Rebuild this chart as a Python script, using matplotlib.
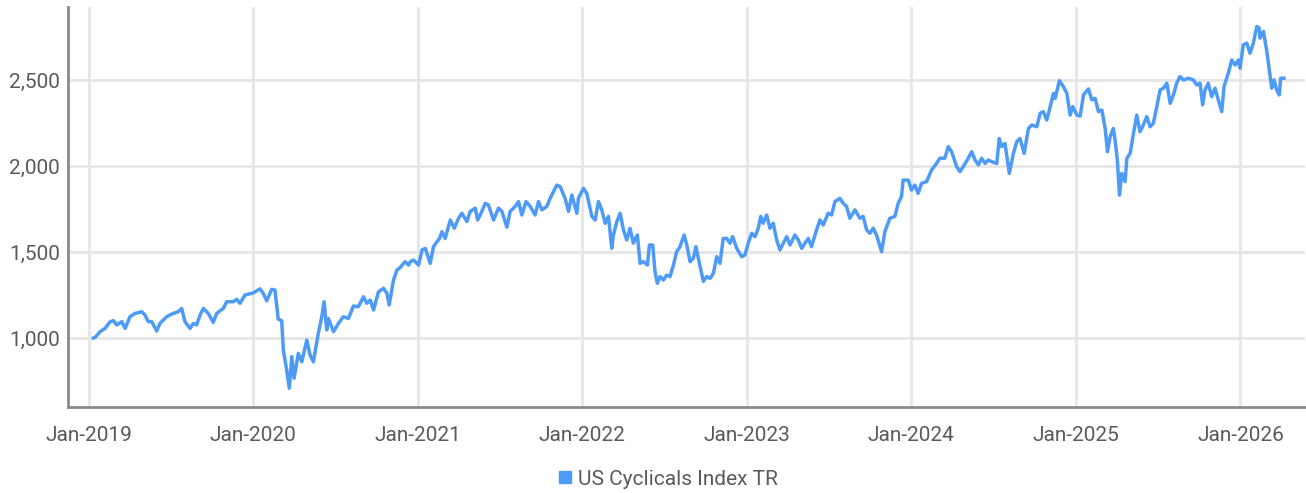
import matplotlib
matplotlib.use("Agg")
import matplotlib.pyplot as plt
import matplotlib.dates as mdates
import pandas as pd
import numpy as np

series_name = "US Cyclicals Index TR"

# time as decimal years
years = [
    2019.029, 2019.040, 2019.070, 2019.100, 2019.131, 2019.151, 2019.171, 2019.202, 2019.222,
    2019.252, 2019.283, 2019.323, 2019.343, 2019.363, 2019.384, 2019.414, 2019.434, 2019.475,
    2019.515, 2019.546, 2019.566, 2019.586, 2019.617, 2019.637, 2019.657, 2019.678, 2019.698,
    2019.728, 2019.758, 2019.779, 2019.819, 2019.840, 2019.880, 2019.901, 2019.921, 2019.951,
    2020.001, 2020.042, 2020.062, 2020.083, 2020.113, 2020.133, 2020.153, 2020.174, 2020.184,
    2020.204, 2020.220, 2020.235, 2020.249, 2020.275, 2020.296, 2020.326, 2020.346, 2020.366,
    2020.396, 2020.417, 2020.431, 2020.447, 2020.457, 2020.488, 2020.518, 2020.548, 2020.579,
    2020.609, 2020.639, 2020.670, 2020.690, 2020.711, 2020.731, 2020.761, 2020.791, 2020.812,
    2020.826, 2020.852, 2020.873, 2020.893, 2020.913, 2020.923, 2020.943, 2020.954, 2020.974,
    2021.004, 2021.025, 2021.045, 2021.075, 2021.095, 2021.116, 2021.132, 2021.146, 2021.166,
    2021.197, 2021.221, 2021.247, 2021.268, 2021.298, 2021.318, 2021.349, 2021.363, 2021.389,
    2021.409, 2021.429, 2021.460, 2021.490, 2021.511, 2021.541, 2021.561, 2021.592, 2021.612,
    2021.632, 2021.658, 2021.683, 2021.713, 2021.733, 2021.754, 2021.784, 2021.804, 2021.845,
    2021.865, 2021.895, 2021.916, 2021.936, 2021.967, 2021.976, 2022.007, 2022.027, 2022.058,
    2022.078, 2022.098, 2022.118, 2022.139, 2022.159, 2022.179, 2022.189, 2022.210, 2022.230,
    2022.250, 2022.270, 2022.290, 2022.310, 2022.335, 2022.351, 2022.371, 2022.396, 2022.408,
    2022.428, 2022.442, 2022.456, 2022.473, 2022.493, 2022.513, 2022.533, 2022.554, 2022.574,
    2022.594, 2022.619, 2022.635, 2022.655, 2022.675, 2022.691, 2022.712, 2022.736, 2022.756,
    2022.777, 2022.797, 2022.817, 2022.837, 2022.857, 2022.878, 2022.898, 2022.914, 2022.939,
    2022.969, 2022.989, 2023.009, 2023.030, 2023.050, 2023.070, 2023.085, 2023.100, 2023.121,
    2023.141, 2023.161, 2023.182, 2023.202, 2023.222, 2023.243, 2023.263, 2023.293, 2023.313,
    2023.334, 2023.354, 2023.374, 2023.394, 2023.421, 2023.445, 2023.465, 2023.495, 2023.516,
    2023.536, 2023.566, 2023.587, 2023.607, 2023.627, 2023.658, 2023.688, 2023.708, 2023.729,
    2023.749, 2023.769, 2023.789, 2023.820, 2023.840, 2023.870, 2023.901, 2023.921, 2023.941,
    2023.951, 2023.982, 2024.002, 2024.022, 2024.042, 2024.063, 2024.093, 2024.124, 2024.154,
    2024.174, 2024.204, 2024.225, 2024.245, 2024.276, 2024.296, 2024.316, 2024.346, 2024.367,
    2024.387, 2024.407, 2024.427, 2024.448, 2024.468, 2024.488, 2024.519, 2024.534, 2024.549,
    2024.569, 2024.595, 2024.620, 2024.640, 2024.660, 2024.685, 2024.711, 2024.731, 2024.762,
    2024.782, 2024.802, 2024.822, 2024.838, 2024.863, 2024.873, 2024.899, 2024.923, 2024.944,
    2024.964, 2024.980, 2025.005, 2025.025, 2025.045, 2025.075, 2025.096, 2025.116, 2025.136,
    2025.157, 2025.177, 2025.191, 2025.207, 2025.227, 2025.237, 2025.251, 2025.264, 2025.278,
    2025.298, 2025.309, 2025.329, 2025.349, 2025.369, 2025.389, 2025.409, 2025.430, 2025.450,
    2025.470, 2025.491, 2025.511, 2025.531, 2025.552, 2025.572, 2025.592, 2025.612, 2025.632,
    2025.653, 2025.683, 2025.713, 2025.734, 2025.754, 2025.770, 2025.784, 2025.804, 2025.825,
    2025.845, 2025.865, 2025.886, 2025.900, 2025.926, 2025.947, 2025.967, 2025.987, 2025.997,
    2026.017, 2026.038, 2026.058, 2026.078, 2026.099, 2026.113, 2026.119, 2026.139, 2026.159,
    2026.175, 2026.190, 2026.204, 2026.220, 2026.236, 2026.244, 2026.264,
]

values = [
    1000, 1004, 1037, 1056, 1095, 1101, 1076, 1095, 1056,
    1124, 1143, 1153, 1134, 1095, 1095, 1041, 1085, 1124,
    1143, 1153, 1172, 1095, 1056, 1085, 1076, 1134, 1172,
    1143, 1091, 1143, 1172, 1211, 1211, 1225, 1202, 1250,
    1262, 1286, 1260, 1216, 1283, 1279, 1110, 1100, 930,
    814, 708, 892, 766, 911, 862, 988, 901, 862,
    1027, 1124, 1211, 1047, 1114, 1037, 1085, 1124, 1114,
    1186, 1182, 1240, 1202, 1221, 1163, 1269, 1289, 1260,
    1192, 1337, 1395, 1410, 1434, 1444, 1424, 1444, 1453,
    1424, 1512, 1521, 1434, 1531, 1560, 1579, 1618, 1579,
    1686, 1638, 1696, 1725, 1677, 1736, 1755, 1686, 1736,
    1783, 1773, 1686, 1755, 1736, 1644, 1736, 1765, 1793,
    1715, 1793, 1765, 1715, 1793, 1745, 1765, 1812, 1889,
    1880, 1812, 1736, 1831, 1725, 1812, 1870, 1841, 1707,
    1686, 1793, 1745, 1667, 1707, 1521, 1599, 1677, 1725,
    1628, 1570, 1638, 1551, 1599, 1434, 1444, 1424, 1541,
    1541, 1386, 1318, 1357, 1337, 1366, 1357, 1424, 1502,
    1531, 1599, 1541, 1444, 1463, 1531, 1434, 1329, 1357,
    1347, 1376, 1473, 1434, 1579, 1579, 1551, 1589, 1521,
    1473, 1483, 1551, 1609, 1589, 1638, 1707, 1667, 1715,
    1638, 1667, 1570, 1512, 1551, 1589, 1541, 1599, 1570,
    1521, 1551, 1579, 1531, 1618, 1686, 1657, 1725, 1715,
    1793, 1812, 1783, 1765, 1696, 1745, 1696, 1707, 1628,
    1609, 1638, 1599, 1502, 1618, 1696, 1707, 1783, 1822,
    1918, 1918, 1860, 1889, 1841, 1899, 1909, 1977, 2015,
    2045, 2045, 2112, 2083, 1996, 1967, 1996, 2045, 2083,
    2035, 2006, 2045, 2015, 2035, 2025, 2015, 2160, 2112,
    2131, 1957, 2073, 2141, 2160, 2073, 2218, 2238, 2228,
    2306, 2316, 2267, 2325, 2422, 2393, 2496, 2461, 2422,
    2296, 2345, 2296, 2290, 2413, 2448, 2384, 2393, 2316,
    2325, 2218, 2083, 2170, 2218, 2151, 2035, 1831, 1957,
    1909, 2045, 2073, 2189, 2296, 2199, 2238, 2287, 2228,
    2248, 2345, 2442, 2452, 2481, 2364, 2413, 2481, 2520,
    2500, 2510, 2500, 2471, 2481, 2355, 2442, 2481, 2403,
    2452, 2384, 2316, 2462, 2540, 2616, 2587, 2616, 2568,
    2704, 2714, 2655, 2714, 2811, 2802, 2743, 2782, 2674,
    2558, 2452, 2500, 2442, 2413, 2510, 2510,
]

tick_years = [2019, 2020, 2021, 2022, 2023, 2024, 2025, 2026]
y_ticks = [1000, 1500, 2000, 2500]


def to_dt(y):
    yr = int(np.floor(y))
    start = pd.Timestamp(year=yr, month=1, day=1)
    end = pd.Timestamp(year=yr + 1, month=1, day=1)
    return start + (end - start) * (y - yr)


dates = [to_dt(y) for y in years]

plt.rcParams['font.family'] = ['Roboto', 'DejaVu Sans']

fig = plt.figure(figsize=(13.06, 4.93), dpi=100)
ax = fig.add_axes([0.0521, 0.1744, 0.9471, 0.8114])

line_color = '#4d9bf7'
ax.plot(dates, values, color=line_color, lw=2.5, solid_joinstyle='round', zorder=3)

ax.set_xlim(to_dt(2018.875), to_dt(2026.392))
ax.set_ylim(599, 2924)

ax.set_xticks([pd.Timestamp(year=y, month=1, day=1) for y in tick_years])
ax.xaxis.set_major_formatter(mdates.DateFormatter('%b-%Y'))
ax.set_yticks(y_ticks)
ax.set_yticklabels([f"{v:,}" for v in y_ticks])

ax.grid(True, color='#e6e6e6', lw=2, zorder=0)
ax.set_axisbelow(True)

for s in ['top', 'right']:
    ax.spines[s].set_visible(False)
for s in ['left', 'bottom']:
    ax.spines[s].set_color('#8a8a8a')
    ax.spines[s].set_linewidth(2)

text_color = '#5a5a5a'
ax.tick_params(axis='both', length=0, labelsize=15, labelcolor=text_color)
ax.tick_params(axis='y', pad=6)
ax.tick_params(axis='x', pad=14)

handle = plt.Line2D([], [], marker='s', color=line_color, linestyle='None', markersize=9)
leg = fig.legend([handle], [series_name], loc='center', bbox_to_anchor=(0.51, 0.028),
                 frameon=False, fontsize=15, handletextpad=0.1, handlelength=1.0)
for t in leg.get_texts():
    t.set_color(text_color)

fig.savefig('out.png', dpi=100)
